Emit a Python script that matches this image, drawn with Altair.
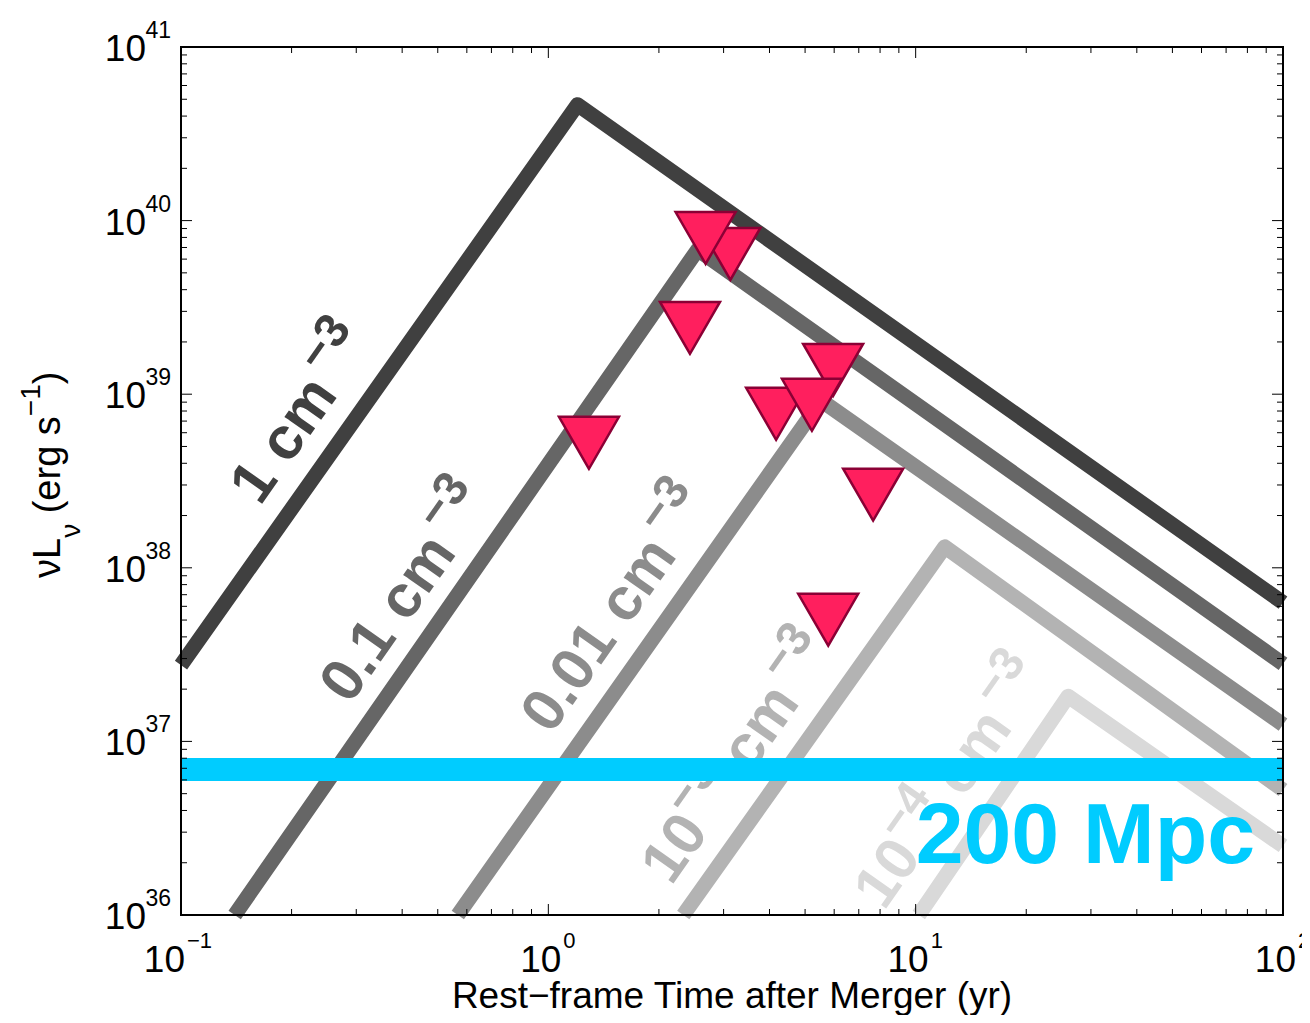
import altair as alt
import pandas as pd

# ---------------- data ----------------
densities = ["1 cm-3", "0.1 cm-3", "0.01 cm-3", "1e-3 cm-3", "1e-4 cm-3"]
curve_colors = ["#404040", "#666666", "#8c8c8c", "#b3b3b3", "#d9d9d9"]
start_t = [0.1, 0.14, 0.567, 2.33, 10.2]
start_L = [2.75e37, 1e36, 1e36, 1e36, 1e36]
peak_t = [1.2, 2.55, 5.53, 12.0, 26.0]
peak_L = [4.65e40, 6.8e39, 9.2e38, 1.32e38, 1.82e37]
end_t = [100, 100, 100, 100, 100]
end_L = [6.3e37, 2.8e37, 1.25e37, 5.25e36, 2.5e36]

# upper limits (drawing order matters for overlaps)
obs_t = [3.13, 2.68, 2.43, 1.29, 5.96, 4.17, 5.22, 7.66, 5.78]
obs_L = [6.43e39, 7.94e39, 2.41e39, 5.25e38, 1.38e39, 7.71e38, 8.69e38, 2.64e38, 5.02e37]

# 200 Mpc sensitivity
sens_t = [0.1, 100]
sens_L = [6.9e36, 6.9e36]
sens_text = "200 Mpc"
sens_text_t = [10.0]
sens_text_L = [2.0e36]

# curve labels: anchor (baseline start) and text runs (text, is_superscript)
label_t = [0.164, 0.288, 1.017, 2.16, 8.2]
label_L = [2.25e38, 1.61e37, 1.08e37, 1.46e36, 1.047e36]
label_runs = [
    [("1 cm", False), ("−3", True)],
    [("0.1 cm", False), ("−3", True)],
    [("0.01 cm", False), ("−3", True)],
    [("10", False), ("−3", True), (" cm", False), ("−3", True)],
    [("10", False), ("−4", True), (" cm", False), ("−3", True)],
]

x_ticks = [0.1, 1, 10, 100]
x_exps = ["−1", "0", "1", "2"]
x_minor = [0.2, 0.3, 0.4, 0.5, 0.6, 0.7, 0.8, 0.9,
           2, 3, 4, 5, 6, 7, 8, 9,
           20, 30, 40, 50, 60, 70, 80, 90]
y_ticks = [1e36, 1e37, 1e38, 1e39, 1e40, 1e41]
y_exps = ["36", "37", "38", "39", "40", "41"]
y_minor = [k * 10.0 ** e for e in range(36, 41) for k in range(2, 10)]

x_title = "Rest−frame Time after Merger (yr)"
y_title_runs = [("νL", "main"), ("ν", "sub"), (" (erg s", "main"), ("−1", "sup"), (")", "main")]

# ---------------- layout ----------------
W, H = 1102, 868
FONT = "Liberation Sans"
XS = alt.Scale(type="log", domain=[0.1, 100], nice=False)
YS = alt.Scale(type="log", domain=[1e36, 1e41], nice=False)


def X(f="t"):
    return alt.X(f"{f}:Q", scale=XS, axis=None)


def Y(f="L"):
    return alt.Y(f"{f}:Q", scale=YS, axis=None)


layers = []

# model curves
rows = []
for i, n in enumerate(densities):
    pts = [(start_t[i], start_L[i]), (peak_t[i], peak_L[i]), (end_t[i], end_L[i])]
    for k, (t, L) in enumerate(pts):
        rows.append({"n": n, "t": t, "L": L, "k": k})
curves = pd.DataFrame(rows)
layers.append(
    alt.Chart(curves).mark_line(strokeWidth=15, strokeCap="butt", strokeJoin="round").encode(
        x=X(), y=Y(),
        color=alt.Color("n:N", scale=alt.Scale(domain=densities, range=curve_colors), legend=None),
        order="k:Q",
    )
)

# curve labels
BOLD_W = {" ": 0.278, ".": 0.278, "c": 0.556, "m": 0.889, "−": 0.584}


def wbold(s):
    return sum(BOLD_W.get(ch, 0.556) for ch in s)


FS, SFS, RAISE, ANG = 60, 48, 27, 305.2
for i, runs in enumerate(label_runs):
    df = pd.DataFrame({"t": [label_t[i]], "L": [label_L[i]]})
    off = 0.0
    prev = ""
    for txt, sup in runs:
        size = SFS if sup else FS
        if txt.startswith(" "):
            off += 0.278 * size
            txt = txt.lstrip(" ")
        if sup and prev.endswith("m"):
            off += 0.12 * FS
        layers.append(
            alt.Chart(df).mark_text(
                text=txt, align="left", baseline="alphabetic", angle=ANG,
                dx=off, dy=-RAISE if sup else 0, fontSize=size, font=FONT,
                fontWeight="bold", color=curve_colors[i],
            ).encode(x=X(), y=Y())
        )
        off += wbold(txt) * size
        prev = txt

# sensitivity line + label
layers.append(
    alt.Chart(pd.DataFrame({"t": sens_t, "L": sens_L})).mark_line(
        color="#00ccff", strokeWidth=23, strokeCap="butt"
    ).encode(x=X(), y=Y())
)
layers.append(
    alt.Chart(pd.DataFrame({"t": sens_text_t, "L": sens_text_L})).mark_text(
        text=sens_text, align="left", baseline="alphabetic", fontSize=86,
        font=FONT, fontWeight="bold", color="#00ccff",
    ).encode(x=X(), y=Y())
)

# upper limits
obs = pd.DataFrame({"t": obs_t, "L": obs_L, "i": list(range(len(obs_t)))})
layers.append(
    alt.Chart(obs).mark_point(
        shape="triangle-down", filled=True, fill="#ff1f5e", stroke="#8b0035",
        strokeWidth=2.5, size=3600, opacity=1, fillOpacity=1,
    ).encode(x=X(), y=Y(), order="i:Q")
)

# ticks (inward, on all four sides)
xmaj = pd.DataFrame({"t": x_ticks})
xmin = pd.DataFrame({"t": x_minor})
ymaj = pd.DataFrame({"L": y_ticks})
ymin = pd.DataFrame({"L": y_minor})
for dfx, ln in [(xmaj, 11), (xmin, 6)]:
    layers.append(alt.Chart(dfx).mark_rule(color="black", strokeWidth=1).encode(
        x=X(), y=alt.value(H), y2=alt.value(H - ln)))
    layers.append(alt.Chart(dfx).mark_rule(color="black", strokeWidth=1).encode(
        x=X(), y=alt.value(0), y2=alt.value(ln)))
for dfy, ln in [(ymaj, 11), (ymin, 6)]:
    layers.append(alt.Chart(dfy).mark_rule(color="black", strokeWidth=1).encode(
        y=Y(), x=alt.value(0), x2=alt.value(ln)))
    layers.append(alt.Chart(dfy).mark_rule(color="black", strokeWidth=1).encode(
        y=Y(), x=alt.value(W), x2=alt.value(W - ln)))

# frame
layers.append(
    alt.Chart(pd.DataFrame({"a": [0]})).mark_rect(
        fillOpacity=0, stroke="black", strokeWidth=2
    ).encode(x=alt.value(0), x2=alt.value(W), y=alt.value(0), y2=alt.value(H))
)

# tick labels
TFS, EFS = 37, 23
ylab = pd.DataFrame({"L": y_ticks, "e": y_exps})
layers.append(alt.Chart(ylab).mark_text(
    text="10", align="right", baseline="alphabetic", dy=14, fontSize=TFS, font=FONT, color="black"
).encode(x=alt.value(-35), y=Y()))
layers.append(alt.Chart(ylab).mark_text(
    align="right", baseline="alphabetic", dy=-9, fontSize=EFS, font=FONT, color="black"
).encode(x=alt.value(-10), y=Y(), text="e:N"))

xlab = pd.DataFrame({"t": x_ticks, "e": x_exps})
xlab_neg = xlab[xlab["e"].str.startswith("−")]
xlab_pos = xlab[~xlab["e"].str.startswith("−")]
for dfl, d10, dex in [(xlab_neg, 4, 6), (xlab_pos, 13, 15)]:
    layers.append(alt.Chart(dfl).mark_text(
        text="10", align="right", baseline="alphabetic", dx=d10, fontSize=TFS, font=FONT, color="black"
    ).encode(x=X(), y=alt.value(H + 57)))
    layers.append(alt.Chart(dfl).mark_text(
        align="left", baseline="alphabetic", dx=dex, fontSize=EFS - 1, font=FONT, color="black"
    ).encode(x=X(), y=alt.value(H + 33), text="e:N"))

# axis titles
layers.append(alt.Chart(pd.DataFrame({"a": [0]})).mark_text(
    text=x_title, align="center", baseline="alphabetic", fontSize=37, font=FONT, color="black"
).encode(x=alt.value(W / 2), y=alt.value(H + 93)))

REG_W = {"ν": 0.5, "L": 0.556, " ": 0.278, "(": 0.333, "e": 0.556, "r": 0.333, "g": 0.556,
         "s": 0.5, "−": 0.584, "1": 0.556, ")": 0.333}
YFS, YSFS = 38, 28
off = 0.0
for txt, kind in y_title_runs:
    size = YFS if kind == "main" else YSFS
    if txt.startswith(" "):
        off += 0.278 * size
        txt = txt.lstrip(" ")
    dy = {"main": 0, "sub": 20, "sup": -20}[kind]
    layers.append(alt.Chart(pd.DataFrame({"a": [0]})).mark_text(
        text=txt, align="left", baseline="alphabetic", angle=270, dx=off, dy=dy,
        fontSize=size, font=FONT, color="black"
    ).encode(x=alt.value(-121), y=alt.value(531)))
    off += sum(REG_W.get(ch, 0.556) for ch in txt) * size

chart = alt.layer(*layers).properties(
    width=W, height=H, autosize="none",
    padding={"left": 173, "top": 39, "right": 19, "bottom": 100},
).configure_view(stroke="transparent")

chart.save("out.html", embed_options={"renderer": "svg", "actions": False})
